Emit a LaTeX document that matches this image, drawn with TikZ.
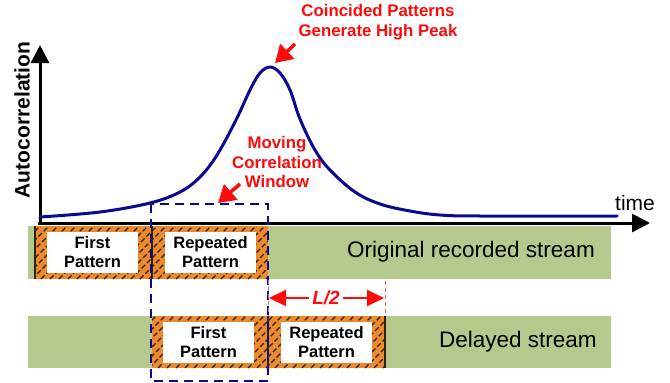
\documentclass[tikz,border=0pt]{standalone}
\usepackage{fontspec}
\setmainfont{Liberation Sans}
\usepackage{xcolor}
\usepackage{tikz}
\usetikzlibrary{calc,arrows.meta}
\definecolor{navy}{HTML}{0A0A8F}
\definecolor{grass}{HTML}{B5C98C}
\definecolor{rust}{HTML}{EE8A2E}
\definecolor{hatchk}{HTML}{2A2418}
\definecolor{alarm}{HTML}{FF0A0A}
\tikzset{
  axis/.style={draw=black, line width=3pt, -{Triangle[length=18pt,width=18pt]}},
  curve/.style={draw=navy, line width=3pt, line cap=round, line join=round},
  stream/.style={fill=grass, draw=none, anchor=north west, inner sep=0pt},
  hatchln/.style={draw=hatchk, line width=1.1pt, dash pattern=on 5pt off 2.5pt},
  patbox/.style={fill=white, draw=none, minimum width=91pt, minimum height=41pt,
    inner sep=0pt, align=center, font=\fontsize{16.5}{19}\selectfont\bfseries},
  lab/.style={font=\fontsize{22.5}{26}\selectfont},
  redlab/.style={text=alarm, align=center, font=\fontsize{16.8}{19.5}\selectfont\bfseries},
  redarr/.style={draw=alarm, line width=3.5pt, -{Triangle[length=17pt,width=20pt]}},
  shiftarr/.style={draw=alarm, line width=2pt, -{Triangle[length=17pt,width=16pt]}},
  window/.style={draw=navy, line width=2pt, dash pattern=on 9pt off 6pt},
  guide/.style={draw=alarm!65, line width=1pt, dash pattern=on 4pt off 3pt},
  divider/.style={draw=hatchk, line width=1.5pt}
}
% hatched orange block: x1,y1,x2,y2
\newcommand{\hatchblock}[4]{%
  \begin{scope}
    \clip (#1,#2) rectangle (#3,#4);
    \fill[rust] (#1,#2) rectangle (#3,#4);
    \foreach \hx in {-40,-31,...,400}
      \draw[hatchln] (\hx,#4) -- ++(60,-60);
  \end{scope}}

\begin{document}
\begin{tikzpicture}[x=1pt,y=-1pt]
  \useasboundingbox (0,0) rectangle (670,383);

  % streams
  \node[stream, minimum width=583pt, minimum height=53pt] (orig) at (28,226) {};
  \node[stream, minimum width=583pt, minimum height=52pt] (delay) at (28,316) {};
  \hatchblock{35}{226}{268}{279}
  \hatchblock{152}{316}{385}{368}
  \draw[divider] (35,226) -- (35,279);
  \draw[divider] (152,226) -- (152,279);
  \draw[divider] (268,316) -- (268,368);
  \draw[divider] (385,316) -- (385,368);

  \node[patbox] (first1) at (92.5,252.5) {First\\Pattern};
  \node[patbox] (rep1) at (210.5,252.5) {Repeated\\Pattern};
  \node[patbox] (first2) at (208.5,342.5) {First\\Pattern};
  \node[patbox] (rep2) at (326.5,342.5) {Repeated\\Pattern};

  \node[lab] (origlbl) at (471,252) {Original recorded stream};
  \node[lab] (delaylbl) at (518,342) {Delayed stream};

  % axes and autocorrelation
  \coordinate (org) at (40,223);
  \draw[axis] (org) -- (40,45);
  \draw[axis] (38,223) -- (650,223);
  \node[font=\fontsize{21}{24}\selectfont\bfseries, rotate=90] (ylbl) at (22,120) {Autocorrelation};
  \node[font=\fontsize{21}{24}\selectfont] (xlbl) at (635,203) {time};

  \coordinate (peak) at (270,67);
  \draw[curve] plot[smooth, tension=0.6] coordinates {(40,217) (100,212) (150,203) (180,192)
    (200,177) (217,155) (236,120) (250,90) (260,73) (peak) (280,73) (290,90) (300,119)
    (315,150) (330,170) (355,192) (380,204) (410,211) (440,215) (480,216) (617,216)};

  % correlation window
  \draw[window] (151,204) rectangle (268,381);

  % shift L/2
  \draw[guide] (268,280) -- (268,316);
  \draw[guide] (385,281) -- (385,316);
  \node[text=alarm, font=\fontsize{19}{22}\selectfont\bfseries\itshape] (half) at (326,298) {L/2};
  \draw[shiftarr] (half.west) -- (269,298);
  \draw[shiftarr] (half.east) -- (384,298);

  % callouts
  \node[redlab] (peaklbl) at (378,22) {Coincided Patterns\\Generate High Peak};
  \coordinate (pk-tail) at (295,44);
  \coordinate (pk-tip) at (275,63);
  \draw[redarr] (pk-tail) -- (pk-tip);

  \node[redlab] (winlbl) at (277,162) {Moving\\Correlation\\Window};
  \coordinate (win-tail) at (240,184);
  \coordinate (win-tip) at (218,203);
  \draw[redarr] (win-tail) -- (win-tip);
\end{tikzpicture}
\end{document}
